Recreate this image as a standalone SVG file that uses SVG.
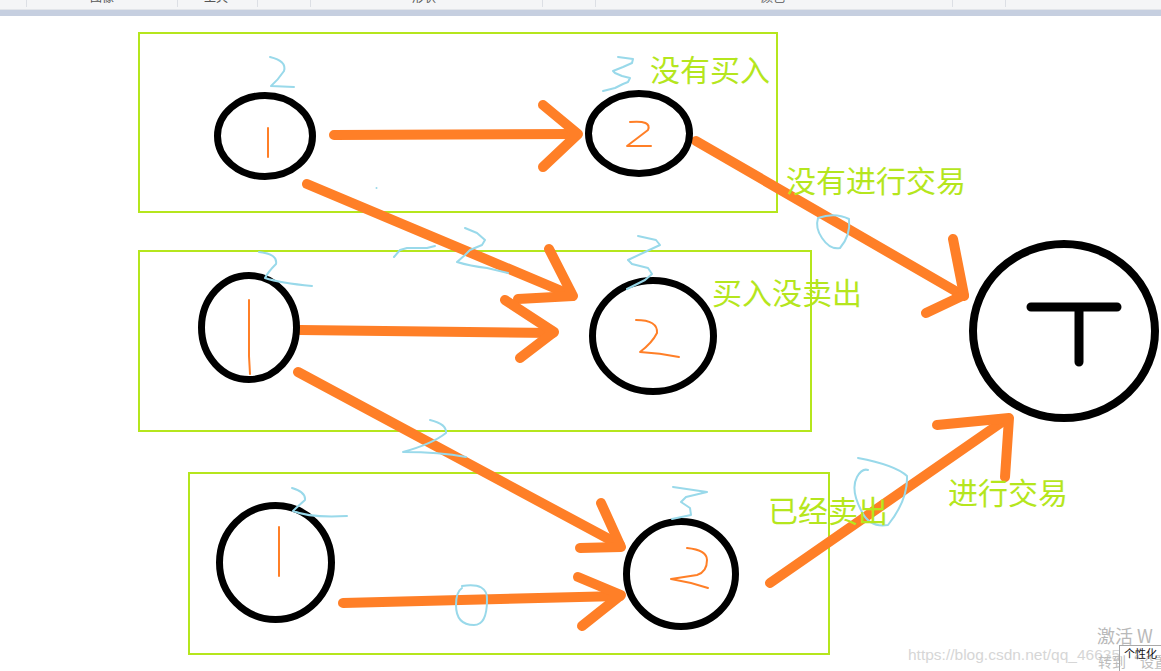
<svg xmlns="http://www.w3.org/2000/svg" width="1161" height="671" viewBox="0 0 1161 671">
  <defs>
    <clipPath id="topclip"><rect x="0" y="0" width="1161" height="9"/></clipPath>
    <style>
      .box { fill: none; stroke: #b5e61d; stroke-width: 2; }
      .ring { fill: none; stroke: #000; stroke-width: 7; }
      .arrow { fill: none; stroke: #ff7f27; stroke-width: 10; stroke-linecap: round; stroke-linejoin: round; }
      .digit { fill: none; stroke: #ff7f27; stroke-width: 2; stroke-linecap: round; stroke-linejoin: round; }
      .scrib { fill: none; stroke: #99d9ea; stroke-width: 2; stroke-linecap: round; stroke-linejoin: round; }
      .label { fill: #b5e61d; font-family: "Noto Sans CJK SC", "Noto Sans", sans-serif; font-size: 30px; }
      .ribbon { fill: #555; font-family: "Noto Sans CJK SC", sans-serif; font-size: 12px; }
      .sep { stroke: #dcdfe5; stroke-width: 1; }
    </style>
  </defs>

  <rect x="0" y="0" width="1161" height="671" fill="#fff"/>

  <!-- top ribbon strip -->
  <g id="ribbon">
    <rect x="0" y="0" width="1161" height="9" fill="#f4f5f7"/>
    <rect x="0" y="9" width="1161" height="1" fill="#e2e5ea"/>
    <rect x="0" y="10" width="1161" height="6" fill="#c6cfe0"/>
    <g class="sep">
      <line x1="26.5" y1="0" x2="26.5" y2="7"/>
      <line x1="177.5" y1="0" x2="177.5" y2="7"/>
      <line x1="257.5" y1="0" x2="257.5" y2="7"/>
      <line x1="310.5" y1="0" x2="310.5" y2="7"/>
      <line x1="542.5" y1="0" x2="542.5" y2="7"/>
      <line x1="595.5" y1="0" x2="595.5" y2="7"/>
      <line x1="952.5" y1="0" x2="952.5" y2="7"/>
      <line x1="1005.5" y1="0" x2="1005.5" y2="7"/>
    </g>
    <g clip-path="url(#topclip)">
      <text class="ribbon" x="90" y="1.5">图像</text>
      <text class="ribbon" x="204" y="1.5">工具</text>
      <text class="ribbon" x="412" y="1.5">形状</text>
      <text class="ribbon" x="761" y="1.5">颜色</text>
    </g>
  </g>

  <!-- group boxes -->
  <g id="box-top"><rect class="box" x="139" y="33" width="638" height="179"/></g>
  <g id="box-mid"><rect class="box" x="139" y="251" width="672" height="180"/></g>
  <g id="box-bot"><rect class="box" x="189" y="473" width="640" height="181"/></g>

  <!-- connectors -->
  <g id="connectors">
    <path class="arrow" d="M334 135 L577 134"/>
    <path class="arrow" d="M543 105 L578 134 L543 167"/>

    <path class="arrow" d="M696 141 L964 296"/>
    <path class="arrow" d="M953 239 L964 295 L926 313"/>

    <path class="arrow" d="M307 184 L571 295"/>
    <path class="arrow" d="M549 249 L573 296 L518 299"/>

    <path class="arrow" d="M300 330 L553 333"/>
    <path class="arrow" d="M505 300 L554 332 L520 358"/>

    <path class="arrow" d="M298 372 L620 545"/>
    <path class="arrow" d="M601 503 L621 547 L580 548"/>

    <path class="arrow" d="M343 603 L620 596"/>
    <path class="arrow" d="M578 577 L621 595 L582 626"/>

    <path class="arrow" d="M770 583 L1005 420"/>
    <path class="arrow" d="M937 425 L1009 418 L1005 477"/>
  </g>

  <!-- nodes -->
  <g id="node-a1">
    <ellipse class="ring" cx="265" cy="136" rx="47.5" ry="40.5"/>
    <path class="digit" d="M268 128 L268 157"/>
  </g>
  <g id="node-a2">
    <ellipse class="ring" cx="639" cy="133.5" rx="50.5" ry="40"/>
    <path class="digit" d="M630 122 Q652 120 648 130 L627 146 L651 146"/>
  </g>
  <g id="node-b1">
    <ellipse class="ring" cx="249" cy="327.5" rx="47.5" ry="52"/>
    <path class="digit" d="M249 300 L249 356 L250 374"/>
  </g>
  <g id="node-b2">
    <ellipse class="ring" cx="653" cy="336" rx="60.5" ry="55.5"/>
    <path class="digit" d="M636 320 Q658 320 657 333 Q652 343 640 352 Q660 353 679 357"/>
  </g>
  <g id="node-c1">
    <ellipse class="ring" cx="275.5" cy="562.5" rx="56" ry="57"/>
    <path class="digit" d="M279 527 L279 576"/>
  </g>
  <g id="node-c2">
    <ellipse class="ring" cx="681" cy="574" rx="54.5" ry="52.5"/>
    <path class="digit" d="M687 548 Q707 550 707 560 Q707 572 697 575 L671 579 Q690 582 708 588"/>
  </g>
  <g id="node-T">
    <ellipse cx="1064" cy="331" rx="91" ry="87" fill="none" stroke="#000" stroke-width="8"/>
    <path d="M1031 307 L1117 307 M1079 307 L1079 362" fill="none" stroke="#000" stroke-width="9" stroke-linecap="round"/>
  </g>

  <!-- light-blue annotations -->
  <g id="annotations">
    <path class="scrib" d="M270 57 Q287 61 284 71 Q278 80 271 86 L294 87"/>
    <path class="scrib" d="M618 57 L633 59 L632 63 L623 67 L613 71 L615 73 L622 76 L630 78 L628 82 L623 84 L615 88 L603 91"/>
    <circle cx="376.5" cy="188" r="1" fill="#99d9ea"/>
    <path class="scrib" d="M394 257 L400 250 L407 248 L427 248 L435 246"/>
    <path class="scrib" d="M465 228 L477 233 L485 240 L482 245 L470 250 L465 255 L457 262 Q470 266 487 268 L508 273"/>
    <path class="scrib" d="M638 236 L656 240 L660 245 L645 252 L628 260 L632 264 L648 268 L652 274 L645 280 L627 289"/>
    <path class="scrib" d="M259 252 Q278 254 276 264 Q268 272 265 278 Q280 283 312 286"/>
    <path class="scrib" d="M430 420 Q447 424 446 433 Q432 444 403 452 Q440 452 466 457"/>
    <path class="scrib" d="M292 488 Q306 492 305 500 Q296 508 293 511 Q310 518 347 516"/>
    <path class="scrib" d="M673 487 L707 492 L686 497 L681 502 L690 508 L691 515 L672 519"/>
    <path class="scrib" d="M462 586 Q488 582 487 600 Q487 625 474 625 Q456 625 456 605 Q456 592 462 588"/>
    <path class="scrib" d="M858 458 Q895 465 907 476 Q908 500 888 525 Q870 528 862 512 Q850 490 857 477 Q862 468 868 470"/>
    <path class="scrib" d="M818 218 Q835 212 849 219 Q851 235 840 248 Q830 250 822 238 Q815 228 818 218"/>
  </g>

  <!-- labels -->
  <g id="labels">
    <text class="label" x="650" y="81">没有买入</text>
    <text class="label" x="786" y="192">没有进行交易</text>
    <text class="label" x="712" y="304">买入没卖出</text>
    <text class="label" x="768" y="522">已经卖出</text>
    <text class="label" x="948" y="504">进行交易</text>
  </g>

  <!-- watermark / overlay -->
  <g id="watermark">
    <text x="908" y="660" fill="#d6d6d6" font-family="Liberation Sans, Arial, sans-serif" font-size="15.5">https://blog.csdn.net/qq_46635</text>
    <text x="1097" y="643" fill="#b9b9b9" font-family="Noto Sans CJK SC, sans-serif" font-size="18">激活 W</text>
    <text x="1098" y="667" fill="#bdbdbd" font-family="Noto Sans CJK SC, sans-serif" font-size="14">转到“设置”</text>
    <rect x="1119.5" y="645.5" width="50" height="30" fill="none" stroke="#a8a8a8" stroke-width="1"/>
    <text x="1124" y="658" fill="#111" font-family="Noto Sans CJK SC, sans-serif" font-size="11">个性化</text>
  </g>
</svg>
